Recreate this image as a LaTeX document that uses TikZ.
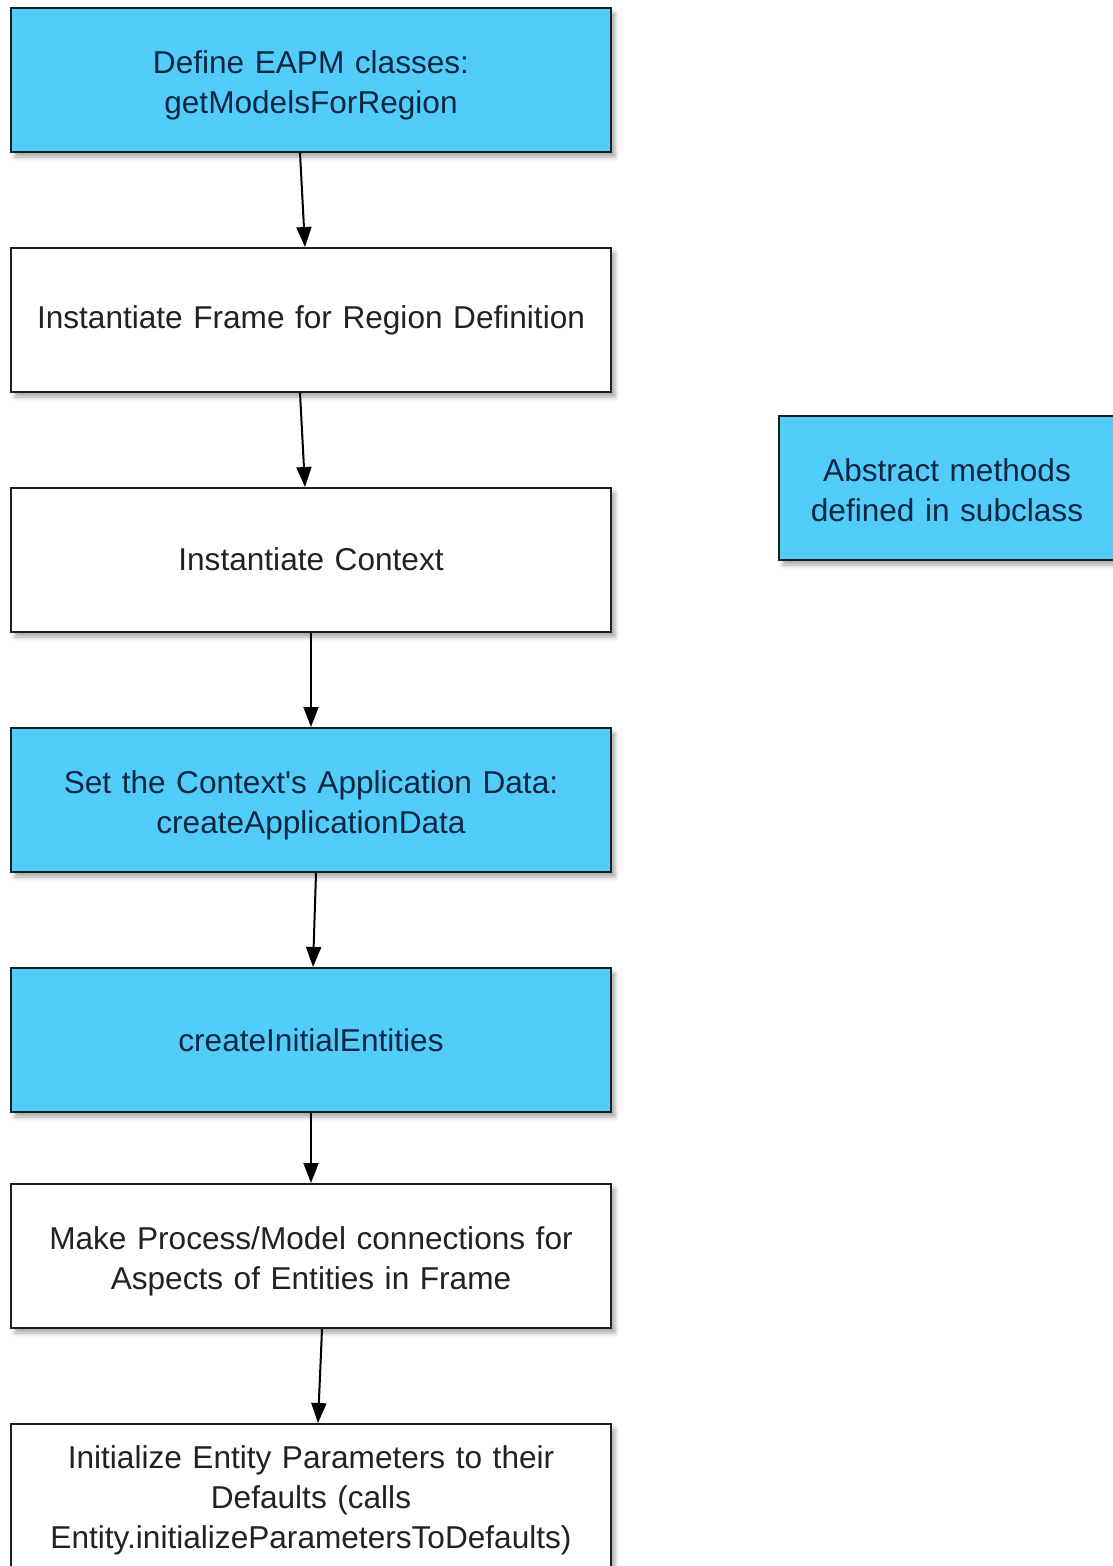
\documentclass[tikz,border=0pt]{standalone}
\usepackage{fontspec}
\setmainfont{Liberation Sans}[Ligatures=TeXOff]
\usetikzlibrary{arrows.meta,shadows.blur}
\definecolor{boxblue}{RGB}{82,205,250}
\definecolor{navytext}{RGB}{14,38,66}
\definecolor{graytext}{RGB}{34,34,34}
\definecolor{edgecol}{RGB}{30,30,30}
\tikzset{
  stepbox/.style={draw=edgecol, line width=2pt, minimum width=600pt, minimum height=144pt,
    inner sep=0pt,
    blur shadow={shadow xshift=4pt, shadow yshift=-5pt, shadow blur radius=4pt, shadow opacity=35}},
  bluebox/.style={stepbox, fill=boxblue},
  whitebox/.style={stepbox, fill=white},
  boxtext/.style={inner sep=0pt, align=center, font=\fontsize{31.6}{40}\selectfont, text width=596pt},
  bluetext/.style={boxtext, text=navytext},
  graytextstyle/.style={boxtext, text=graytext},
  flow/.style={draw=black, line width=2pt, -{Triangle[length=20pt,width=15pt]}}
}
\begin{document}
\begin{tikzpicture}[x=1pt,y=-1pt]
\useasboundingbox (0,0) rectangle (1112,1566);
\node[bluebox] (n1) at (311,80) {};
\node[whitebox] (n2) at (311,320) {};
\node[whitebox] (n3) at (311,560) {};
\node[bluebox] (n4) at (311,800) {};
\node[bluebox] (n5) at (311,1040) {};
\node[whitebox] (n6) at (311,1256) {};
\node[whitebox] (n7) at (311,1496) {};
\node[bluebox, minimum width=336pt] (leg) at (947,488) {};
\node[bluetext, yshift=-5pt] (t1) at (n1.center) {Define EAPM classes:\\getModelsForRegion};
\node[graytextstyle] (t2) at (n2.center) {Instantiate Frame for Region Definition};
\node[graytextstyle, yshift=1pt] (t3) at (n3.center) {Instantiate Context};
\node[bluetext, yshift=-5pt] (t4) at (n4.center) {Set the Context's Application Data:\\createApplicationData};
\node[bluetext] (t5) at (n5.center) {createInitialEntities};
\node[graytextstyle, yshift=-5pt] (t6) at (n6.center) {Make Process/Model connections for\\Aspects of Entities in Frame};
\node[graytextstyle, yshift=-4pt] (t7) at (n7.center) {Initialize Entity Parameters to their\\Defaults (calls\\Entity.initializeParametersToDefaults)};
\node[bluetext, yshift=-2pt, text width=330pt] (tl) at (leg.center) {Abstract methods\\defined in subclass};
\draw[flow] ([xshift=-11pt]n1.south) -- ([xshift=-6pt]n2.north);
\draw[flow] ([xshift=-11pt]n2.south) -- ([xshift=-6pt]n3.north);
\draw[flow] (n3.south) -- (n4.north);
\draw[flow] ([xshift=5pt]n4.south) -- ([xshift=2pt]n5.north);
\draw[flow] (n5.south) -- (n6.north);
\draw[flow] ([xshift=11pt]n6.south) -- ([xshift=7pt]n7.north);
\end{tikzpicture}
\end{document}
